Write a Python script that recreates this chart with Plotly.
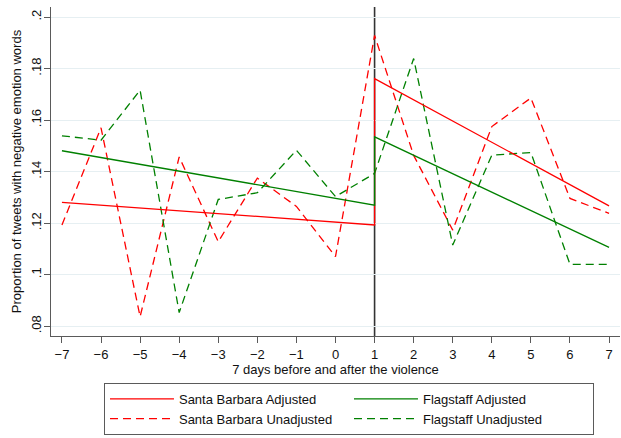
import plotly.graph_objects as go

# Days relative to the event (day 1 = day of the violence)
days = [-7, -6, -5, -4, -3, -2, -1, 0, 1, 2, 3, 4, 5, 6, 7]

# Raw daily proportions of tweets with negative emotion words
sb_unadj = [0.1193, 0.1570, 0.0837, 0.1457, 0.1128, 0.1375, 0.1265, 0.1070,
            0.1929, 0.1463, 0.1173, 0.1575, 0.1686, 0.1296, 0.1238]
fs_unadj = [0.1539, 0.1522, 0.1716, 0.0853, 0.1292, 0.1318, 0.1483, 0.1303,
            0.1393, 0.1839, 0.1115, 0.1464, 0.1474, 0.1040, 0.1040]

# Adjusted (fitted) trends: before segment ends at day 1, after segment starts at day 1
adj_days = [-7, 1, 1, 7]
sb_adj = [0.1281, 0.1193, 0.1761, 0.1267]
fs_adj = [0.1481, 0.1270, 0.1535, 0.1106]

event_day = 1
y_ticks = [0.08, 0.10, 0.12, 0.14, 0.16, 0.18, 0.20]
y_tick_text = [".08", ".1", ".12", ".14", ".16", ".18", ".2"]

RED = "#ff0000"
GREEN = "#008000"
AXIS = "#5a5a5a"
FONT = "Liberation Sans, Arial, sans-serif"

fig = go.Figure()

fig.add_trace(go.Scatter(x=days, y=sb_unadj, mode="lines", name="Santa Barbara Unadjusted",
                         line=dict(color=RED, width=1.3, dash="8px,5px"), legendrank=3))
fig.add_trace(go.Scatter(x=days, y=fs_unadj, mode="lines", name="Flagstaff Unadjusted",
                         line=dict(color=GREEN, width=1.3, dash="8px,5px"), legendrank=4))
fig.add_trace(go.Scatter(x=adj_days, y=sb_adj, mode="lines", name="Santa Barbara Adjusted",
                         line=dict(color=RED, width=1.3), legendrank=1))
fig.add_trace(go.Scatter(x=adj_days, y=fs_adj, mode="lines", name="Flagstaff Adjusted",
                         line=dict(color=GREEN, width=1.3), legendrank=2))

# Vertical reference line on the day of the violence
fig.add_shape(type="line", xref="x", yref="paper", x0=event_day, x1=event_day, y0=0, y1=1,
              line=dict(color="#333333", width=1.6), layer="between")

fig.update_layout(
    width=621, height=438,
    margin=dict(l=51, r=1, t=7, b=102),
    paper_bgcolor="white", plot_bgcolor="white",
    font=dict(family=FONT, size=13, color="#111111"),
    showlegend=True,
    legend=dict(
        orientation="h", x=0.0931, xanchor="left", y=-0.1424, yanchor="top",
        bordercolor=AXIS, borderwidth=1, bgcolor="white",
        itemwidth=64,
        entrywidth=165, entrywidthmode="pixels",
        font=dict(family=FONT, size=13, color="#111111"),
        traceorder="normal",
    ),
    xaxis=dict(
        range=[-7.28, 7.28], tickmode="array", tickvals=days,
        showgrid=False, zeroline=False,
        showline=True, linecolor=AXIS, linewidth=1.4,
        ticks="outside", ticklen=6, tickcolor=AXIS, tickwidth=1.2,
        title=dict(text="7 days before and after the violence", standoff=1,
                   font=dict(family=FONT, size=13)),
        tickfont=dict(family=FONT, size=13),
    ),
    yaxis=dict(
        range=[0.0762, 0.2039], tickmode="array", tickvals=y_ticks, ticktext=y_tick_text,
        tickangle=-90, ticklabelstandoff=-2,
        showgrid=True, gridcolor="#e6eff2", gridwidth=1,
        zeroline=False,
        showline=True, linecolor=AXIS, linewidth=1.4,
        ticks="outside", ticklen=6, tickcolor=AXIS, tickwidth=1.2,
        title=dict(text="Proportion of tweets with negative emotion words", standoff=4,
                   font=dict(family=FONT, size=13)),
        tickfont=dict(family=FONT, size=13),
    ),
)

fig.write_html("out.html")
